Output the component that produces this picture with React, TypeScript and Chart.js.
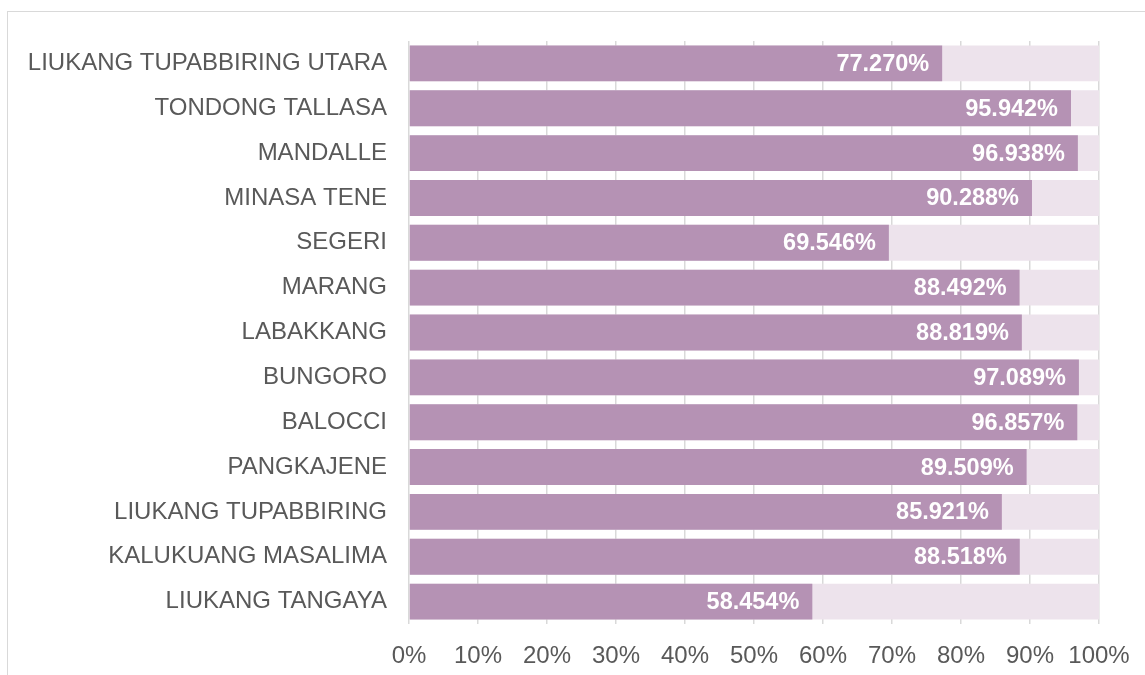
import React, { useEffect, useRef } from "react";
import { Chart, registerables } from "chart.js";

Chart.register(...registerables);

const categories = [
  "LIUKANG TUPABBIRING UTARA",
  "TONDONG TALLASA",
  "MANDALLE",
  "MINASA TENE",
  "SEGERI",
  "MARANG",
  "LABAKKANG",
  "BUNGORO",
  "BALOCCI",
  "PANGKAJENE",
  "LIUKANG TUPABBIRING",
  "KALUKUANG MASALIMA",
  "LIUKANG TANGAYA",
];

const values = [77.27, 95.942, 96.938, 90.288, 69.546, 88.492, 88.819, 97.089, 96.857, 89.509, 85.921, 88.518, 58.454];
const fullValues = categories.map(() => 100);
const xTicks = [0, 10, 20, 30, 40, 50, 60, 70, 80, 90, 100];

const FONT = "'Liberation Sans', Arial, sans-serif";

const labelPlugin = {
  id: "barLabels",
  afterDraw(chart: any) {
    const ctx = chart.ctx;
    const meta = chart.getDatasetMeta(0);
    ctx.save();
    ctx.font = `bold 23.5px ${FONT}`;
    ctx.fillStyle = "#ffffff";
    ctx.textAlign = "right";
    ctx.textBaseline = "middle";
    meta.data.forEach((bar: any, i: number) => {
      ctx.fillText(values[i].toFixed(3) + "%", bar.x - 13, bar.y + 1);
    });
    ctx.restore();
  },
};

export default function App() {
  const ref = useRef<HTMLCanvasElement>(null);
  useEffect(() => {
    if (!ref.current) return;
    const chart = new Chart(ref.current, {
      type: "bar",
      data: {
        labels: categories,
        datasets: [
          {
            data: values,
            backgroundColor: "#B592B4",
            barPercentage: 0.8,
            categoryPercentage: 1,
            grouped: false,
          } as any,
          {
            data: fullValues,
            backgroundColor: "#EDE3EC",
            barPercentage: 0.8,
            categoryPercentage: 1,
            grouped: false,
          } as any,
        ],
      },
      options: {
        indexAxis: "y",
        animation: false,
        responsive: false,
        maintainAspectRatio: false,
        layout: { padding: { top: 41, right: 46, bottom: 0, left: 0 } },
        plugins: { legend: { display: false }, tooltip: { enabled: false } },
        scales: {
          x: {
            min: 0,
            max: 100,
            z: 1,
            afterBuildTicks: (scale: any) => {
              scale.ticks = xTicks.map((v) => ({ value: v }));
            },
            afterFit: (scale: any) => {
              scale.height = 51;
              scale.paddingRight = 0;
              scale.paddingLeft = 0;
            },
            grid: { color: "rgba(128,128,128,0.3)", lineWidth: 1.5, drawTicks: false },
            border: { display: false },
            ticks: {
              padding: 18,
              color: "#595959",
              font: { family: FONT, size: 24 },
              callback: (v: any) => v + "%",
            },
          } as any,
          y: {
            afterFit: (scale: any) => {
              scale.width = 409;
            },
            grid: { display: false, drawTicks: false },
            border: { display: false },
            ticks: {
              padding: 22,
              color: "#595959",
              font: { family: FONT, size: 24 },
            },
          } as any,
        },
      },
      plugins: [labelPlugin],
    });
    return () => chart.destroy();
  }, []);
  return (
    <div style={{ position: "fixed", left: 0, top: 0, width: 1145, height: 675, overflow: "hidden", background: "#fff" }}>
      <div
        style={{
          position: "absolute",
          left: 7,
          top: 11,
          width: 1200,
          height: 700,
          border: "1px solid #d9d9d9",
          boxSizing: "border-box",
        }}
      />
      <canvas ref={ref} width={1145} height={675} style={{ position: "absolute", left: 0, top: 0 }} />
    </div>
  );
}
